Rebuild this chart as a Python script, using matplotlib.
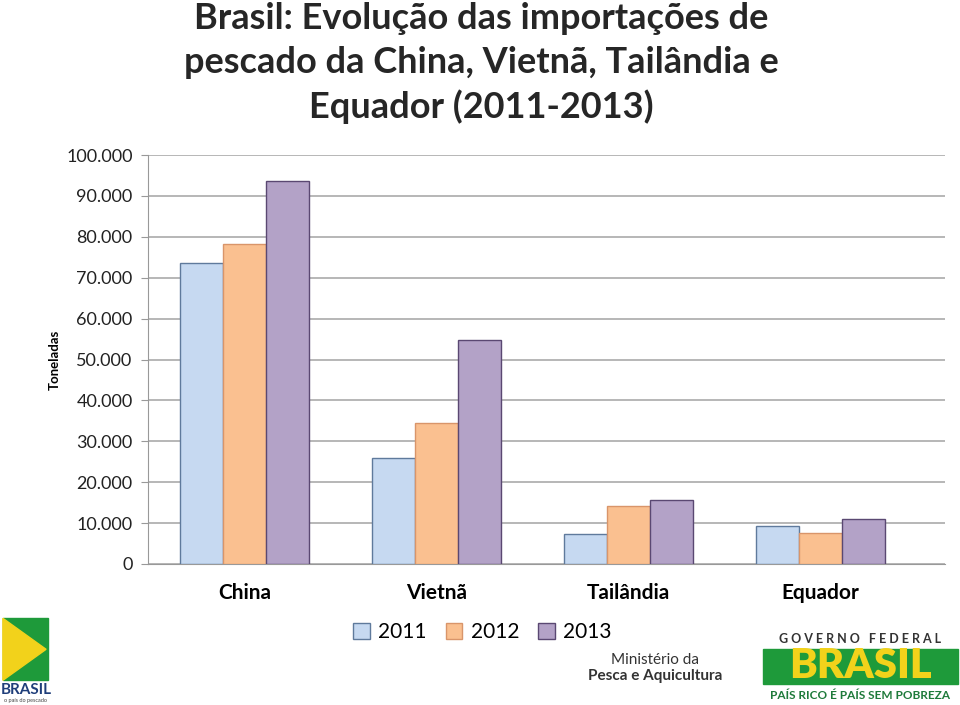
import matplotlib.pyplot as plt
import matplotlib.patches as mpatches
import numpy as np

countries = ['China', 'Vietnã', 'Tailândia', 'Equador']
years = ['2011', '2012', '2013']
v2011 = [73600, 25900, 7300, 9300]
v2012 = [78200, 34500, 14200, 7600]
v2013 = [93600, 54800, 15600, 11000]
yticks = list(range(0, 100001, 10000))
ytick_labels = ['0'] + [f'{t // 1000}.000' for t in yticks[1:]]

fills = ['#C6D9F1', '#FAC090', '#B3A2C7']
edges = ['#5F7A9C', '#D9956A', '#5A4872']

plt.rcParams['font.family'] = ['Lato', 'DejaVu Sans']

fig = plt.figure(figsize=(9.6, 7.05), dpi=100)
ax = fig.add_axes([0.154, 0.2, 0.83, 0.58])

x = np.arange(len(countries))
w = 0.224
for i, vals in enumerate([v2011, v2012, v2013]):
    ax.bar(x + (i - 1) * w, vals, w, color=fills[i], edgecolor=edges[i],
           linewidth=1.0, label=years[i], zorder=3)

ax.set_xlim(-0.505, 3.646)
ax.set_ylim(0, 100000)
ax.set_yticks(yticks)
ax.set_yticklabels(ytick_labels, fontsize=13, color='#222222')
ax.set_xticks(x)
ax.set_xticklabels(countries, fontsize=15, fontweight='bold')
ax.tick_params(axis='x', length=0, pad=14)
ax.tick_params(axis='y', length=5, color='#999999', pad=6)
ax.yaxis.grid(True, color='#AAAAAA', linewidth=1.2, zorder=0)
ax.set_axisbelow(True)
for s in ['top', 'right']:
    ax.spines[s].set_visible(False)
ax.spines['left'].set_color('#999999')
ax.spines['bottom'].set_color('#999999')
ax.set_ylabel('Toneladas', fontsize=9.5, fontweight='bold', labelpad=4)

fig.text(0.501, 0.974, 'Brasil: Evolução das importações de', fontsize=26, fontweight='bold',
         color='#262626', ha='center', va='center')
fig.text(0.501, 0.912, 'pescado da China, Vietnã, Tailândia e', fontsize=26, fontweight='bold',
         color='#262626', ha='center', va='center')
fig.text(0.501, 0.848, 'Equador (2011-2013)', fontsize=26, fontweight='bold',
         color='#262626', ha='center', va='center')

ax.legend(loc='center', bbox_to_anchor=(0.42, -0.167), ncol=3, frameon=False,
          fontsize=15, handlelength=0.8, handleheight=0.8, columnspacing=0.9, handletextpad=0.4)

# logos (approximated with text and shapes)
fig.patches.append(mpatches.Rectangle((0.003, 0.035), 0.047, 0.088, transform=fig.transFigure,
                                      color='#1E9A3A', zorder=1))
fig.patches.append(mpatches.Polygon([[0.003, 0.035], [0.048, 0.079], [0.003, 0.123]],
                                    transform=fig.transFigure, color='#F2D21B', zorder=2))
fig.text(0.027, 0.021, 'BRASIL', fontsize=11, fontweight='bold', color='#1F3E7A',
         ha='center', va='center')
fig.text(0.027, 0.006, 'o país do pescado', fontsize=4, color='#444444', ha='center', va='center')

fig.text(0.682, 0.064, 'Ministério da', fontsize=11, color='#333333', ha='center', va='center')
fig.text(0.682, 0.041, 'Pesca e Aquicultura', fontsize=11, fontweight='bold', color='#333333',
         ha='center', va='center')

fig.text(0.896, 0.093, 'G O V E R N O   F E D E R A L', fontsize=9, fontweight='bold',
         color='#333333', ha='center', va='center')
fig.patches.append(mpatches.Rectangle((0.795, 0.03), 0.203, 0.05, transform=fig.transFigure,
                                      color='#1E9A3A', zorder=1))
fig.text(0.896, 0.055, 'BRASIL', fontsize=30, fontweight='heavy', color='#F2D21B',
         ha='center', va='center')
fig.text(0.896, 0.014, 'PAÍS RICO É PAÍS SEM POBREZA', fontsize=8.5, fontweight='bold',
         color='#1E7A3A', ha='center', va='center')

fig.savefig('out.png', dpi=100)
